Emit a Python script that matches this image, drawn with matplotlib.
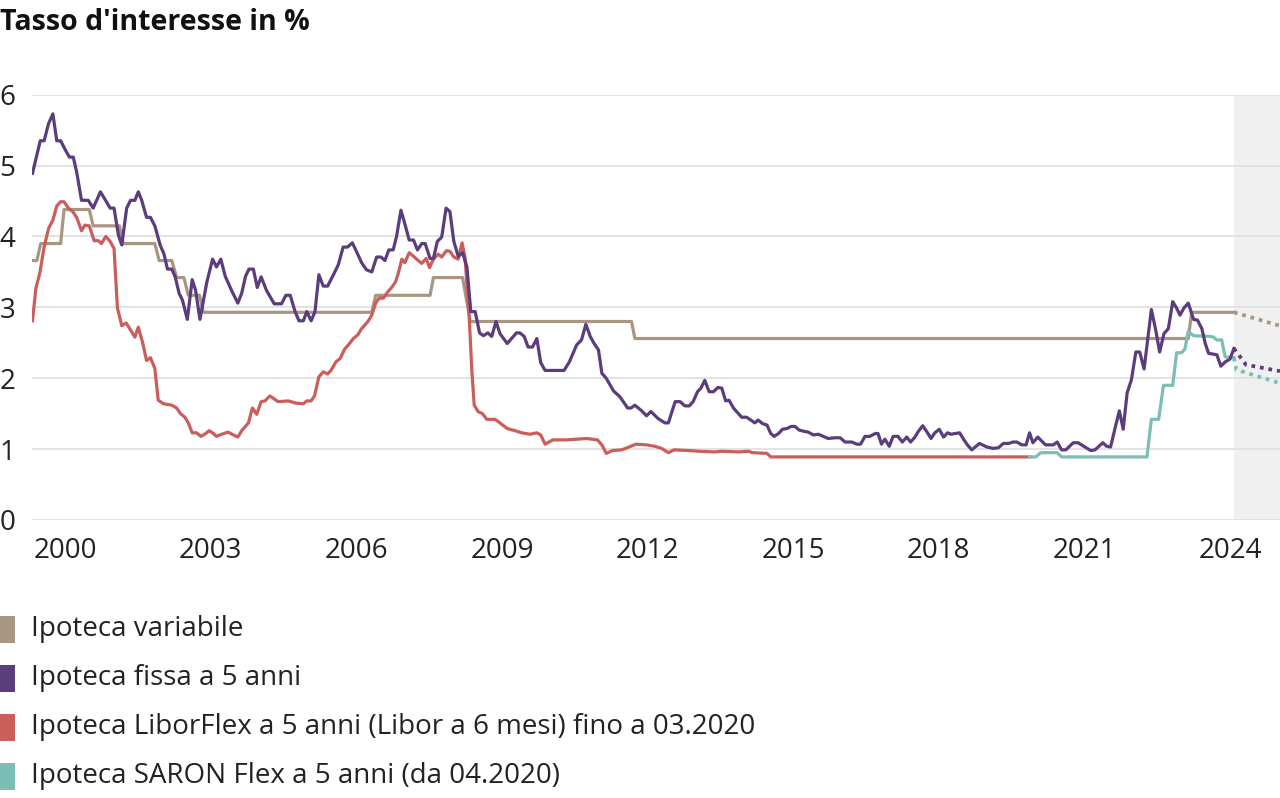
import matplotlib
matplotlib.use("Agg")
import matplotlib.pyplot as plt
from matplotlib.patches import Rectangle

plt.rcParams['font.family'] = ['Open Sans', 'DejaVu Sans']

# ---------------- data ----------------
title = "Tasso d'interesse in %"
x_ticks = [2000, 2003, 2006, 2009, 2012, 2015, 2018, 2021, 2024]
y_ticks = [0, 1, 2, 3, 4, 5, 6]
forecast_start, forecast_end = 2024.08, 2025.03

legend_labels = [
    "Ipoteca variabile",
    "Ipoteca fissa a 5 anni",
    "Ipoteca LiborFlex a 5 anni (Libor a 6 mesi) fino a 03.2020",
    "Ipoteca SARON Flex a 5 anni (da 04.2020)",
]

var_years = [1999.33, 1999.42, 1999.50, 1999.91, 1999.98, 2000.50, 2000.58, 2001.12,
             2001.20, 2001.85, 2001.94, 2002.20, 2002.30, 2002.45, 2002.54, 2002.77,
             2002.85, 2006.32, 2006.40, 2007.52, 2007.59, 2008.19, 2008.35, 2011.67,
             2011.74, 2023.14, 2023.21, 2024.08]
var_rates = [3.66, 3.66, 3.90, 3.90, 4.38, 4.38, 4.15, 4.15,
             3.90, 3.90, 3.66, 3.66, 3.42, 3.42, 3.17, 3.17,
             2.93, 2.93, 3.17, 3.17, 3.42, 3.42, 2.80, 2.80,
             2.56, 2.56, 2.93, 2.93]
var_fc_years = [2024.08, 2025.03]
var_fc_rates = [2.93, 2.74]

fix_years = [1999.33, 1999.49, 1999.57, 1999.66, 1999.75, 1999.83, 1999.91, 2000.00, 2000.09, 2000.17,
             2000.24, 2000.34, 2000.48, 2000.58, 2000.73, 2000.93, 2001.01, 2001.10, 2001.17, 2001.27,
             2001.35, 2001.44, 2001.51, 2001.58, 2001.68, 2001.76, 2001.85, 2001.96, 2002.04, 2002.11,
             2002.20, 2002.27, 2002.35, 2002.42, 2002.52, 2002.62, 2002.69, 2002.78, 2002.92, 2003.04,
             2003.12, 2003.21, 2003.30, 2003.43, 2003.56, 2003.64, 2003.72, 2003.79, 2003.88, 2003.96,
             2004.04, 2004.15, 2004.31, 2004.46, 2004.55, 2004.64, 2004.74, 2004.82, 2004.91, 2004.98,
             2005.07, 2005.15, 2005.23, 2005.32, 2005.41, 2005.53, 2005.63, 2005.73, 2005.82, 2005.92,
             2006.01, 2006.11, 2006.21, 2006.32, 2006.42, 2006.51, 2006.59, 2006.67, 2006.76, 2006.83,
             2006.92, 2007.00, 2007.09, 2007.18, 2007.26, 2007.35, 2007.42, 2007.52, 2007.59, 2007.67,
             2007.76, 2007.85, 2007.93, 2008.01, 2008.10, 2008.19, 2008.28, 2008.36, 2008.45, 2008.54,
             2008.62, 2008.71, 2008.79, 2008.88, 2008.96, 2009.11, 2009.30, 2009.37, 2009.46, 2009.54,
             2009.63, 2009.72, 2009.80, 2009.89, 2010.28, 2010.39, 2010.54, 2010.64, 2010.73, 2010.82,
             2010.90, 2010.99, 2011.06, 2011.15, 2011.30, 2011.43, 2011.59, 2011.66, 2011.74, 2011.88,
             2011.98, 2012.07, 2012.22, 2012.36, 2012.43, 2012.57, 2012.67, 2012.77, 2012.86, 2012.94,
             2013.03, 2013.10, 2013.18, 2013.27, 2013.36, 2013.45, 2013.53, 2013.61, 2013.68, 2013.77,
             2013.86, 2013.94, 2014.04, 2014.15, 2014.21, 2014.28, 2014.37, 2014.46, 2014.54, 2014.61,
             2014.70, 2014.78, 2014.87, 2014.96, 2015.04, 2015.12, 2015.23, 2015.31, 2015.42, 2015.52,
             2015.62, 2015.72, 2015.86, 2015.97, 2016.07, 2016.21, 2016.31, 2016.39, 2016.48, 2016.58,
             2016.69, 2016.75, 2016.82, 2016.89, 2016.98, 2017.06, 2017.16, 2017.25, 2017.34, 2017.42,
             2017.51, 2017.58, 2017.67, 2017.75, 2017.84, 2017.92, 2018.01, 2018.10, 2018.18, 2018.25,
             2018.43, 2018.51, 2018.59, 2018.68, 2018.84, 2018.99, 2019.12, 2019.23, 2019.33, 2019.44,
             2019.53, 2019.61, 2019.71, 2019.80, 2019.87, 2019.94, 2020.04, 2020.20, 2020.36, 2020.44,
             2020.53, 2020.62, 2020.77, 2020.87, 2021.01, 2021.13, 2021.22, 2021.38, 2021.46, 2021.54,
             2021.63, 2021.72, 2021.80, 2021.88, 2021.97, 2022.06, 2022.14, 2022.23, 2022.38, 2022.47,
             2022.55, 2022.64, 2022.73, 2022.82, 2022.90, 2022.97, 2023.05, 2023.14, 2023.25, 2023.33,
             2023.42, 2023.49, 2023.56, 2023.66, 2023.73, 2023.81, 2023.90, 2024.00, 2024.08]
fix_rates = [4.89, 5.35, 5.35, 5.59, 5.73, 5.35, 5.35, 5.23, 5.12, 5.12,
             4.91, 4.51, 4.51, 4.40, 4.63, 4.40, 4.40, 4.02, 3.88, 4.40,
             4.51, 4.51, 4.63, 4.51, 4.27, 4.27, 4.15, 3.88, 3.75, 3.54,
             3.54, 3.43, 3.20, 3.10, 2.83, 3.39, 3.24, 2.83, 3.35, 3.68,
             3.57, 3.68, 3.44, 3.24, 3.06, 3.20, 3.44, 3.54, 3.54, 3.28,
             3.43, 3.24, 3.05, 3.05, 3.17, 3.17, 2.94, 2.81, 2.81, 2.94,
             2.81, 2.94, 3.46, 3.30, 3.30, 3.46, 3.60, 3.85, 3.85, 3.91,
             3.78, 3.63, 3.53, 3.50, 3.71, 3.71, 3.66, 3.81, 3.81, 4.00,
             4.37, 4.18, 3.95, 3.95, 3.81, 3.90, 3.90, 3.69, 3.69, 3.93,
             3.99, 4.40, 4.35, 3.93, 3.72, 3.77, 3.57, 2.94, 2.94, 2.64,
             2.60, 2.64, 2.59, 2.80, 2.63, 2.49, 2.64, 2.64, 2.59, 2.44,
             2.44, 2.56, 2.22, 2.11, 2.11, 2.23, 2.47, 2.54, 2.76, 2.59,
             2.49, 2.40, 2.07, 2.00, 1.82, 1.74, 1.58, 1.58, 1.62, 1.54,
             1.47, 1.53, 1.43, 1.37, 1.37, 1.67, 1.67, 1.61, 1.61, 1.67,
             1.81, 1.86, 1.97, 1.81, 1.81, 1.87, 1.86, 1.68, 1.69, 1.58,
             1.51, 1.45, 1.45, 1.40, 1.37, 1.41, 1.36, 1.34, 1.22, 1.18,
             1.22, 1.28, 1.29, 1.32, 1.32, 1.27, 1.25, 1.24, 1.20, 1.21,
             1.18, 1.15, 1.16, 1.16, 1.10, 1.10, 1.07, 1.07, 1.18, 1.18,
             1.22, 1.22, 1.07, 1.14, 1.04, 1.18, 1.18, 1.10, 1.17, 1.10,
             1.17, 1.25, 1.33, 1.25, 1.15, 1.23, 1.28, 1.17, 1.23, 1.21,
             1.23, 1.14, 1.06, 0.99, 1.08, 1.03, 1.01, 1.02, 1.08, 1.08,
             1.10, 1.10, 1.06, 1.06, 1.23, 1.09, 1.17, 1.06, 1.06, 1.10,
             0.99, 0.99, 1.09, 1.09, 1.03, 0.98, 0.99, 1.09, 1.04, 1.03,
             1.29, 1.54, 1.28, 1.79, 1.98, 2.37, 2.37, 2.13, 2.97, 2.68,
             2.37, 2.63, 2.70, 3.08, 2.99, 2.89, 2.99, 3.06, 2.83, 2.82,
             2.70, 2.49, 2.35, 2.34, 2.33, 2.17, 2.23, 2.27, 2.42]
fix_fc_years = [2024.08, 2024.33, 2025.03]
fix_fc_rates = [2.42, 2.19, 2.10]

libor_years = [1999.33, 1999.40, 1999.48, 1999.57, 1999.66, 1999.75, 1999.83, 1999.91, 1999.98, 2000.07,
               2000.16, 2000.24, 2000.34, 2000.41, 2000.50, 2000.60, 2000.69, 2000.75, 2000.84, 2000.93,
               2001.01, 2001.08, 2001.17, 2001.26, 2001.34, 2001.44, 2001.51, 2001.60, 2001.68, 2001.76,
               2001.85, 2001.92, 2002.03, 2002.20, 2002.30, 2002.38, 2002.47, 2002.54, 2002.62, 2002.71,
               2002.80, 2002.88, 2002.97, 2003.04, 2003.12, 2003.23, 2003.36, 2003.47, 2003.56, 2003.65,
               2003.78, 2003.86, 2003.95, 2004.04, 2004.12, 2004.22, 2004.39, 2004.60, 2004.75, 2004.91,
               2004.98, 2005.07, 2005.14, 2005.23, 2005.32, 2005.41, 2005.48, 2005.58, 2005.67, 2005.76,
               2005.85, 2005.94, 2006.03, 2006.11, 2006.24, 2006.32, 2006.40, 2006.47, 2006.56, 2006.65,
               2006.73, 2006.81, 2006.87, 2006.94, 2007.00, 2007.09, 2007.18, 2007.26, 2007.35, 2007.44,
               2007.51, 2007.59, 2007.69, 2007.76, 2007.86, 2007.93, 2008.01, 2008.10, 2008.18, 2008.24,
               2008.33, 2008.38, 2008.43, 2008.51, 2008.60, 2008.69, 2008.86, 2008.96, 2009.11, 2009.27,
               2009.41, 2009.58, 2009.72, 2009.80, 2009.89, 2010.05, 2010.33, 2010.54, 2010.75, 2010.97,
               2011.06, 2011.15, 2011.28, 2011.47, 2011.62, 2011.76, 2011.98, 2012.15, 2012.29, 2012.43,
               2012.55, 2012.84, 2013.05, 2013.39, 2013.53, 2013.88, 2014.08, 2014.16, 2014.46, 2014.54,
               2019.87]
libor_rates = [2.81, 3.27, 3.48, 3.85, 4.11, 4.23, 4.43, 4.49, 4.49, 4.40,
               4.35, 4.27, 4.08, 4.16, 4.15, 3.94, 3.94, 3.90, 4.00, 3.93,
               3.83, 2.99, 2.74, 2.78, 2.69, 2.58, 2.72, 2.50, 2.25, 2.29,
               2.14, 1.69, 1.64, 1.62, 1.58, 1.50, 1.45, 1.37, 1.23, 1.23,
               1.18, 1.21, 1.26, 1.23, 1.18, 1.21, 1.24, 1.20, 1.17, 1.27,
               1.37, 1.58, 1.49, 1.67, 1.68, 1.75, 1.67, 1.68, 1.65, 1.64,
               1.68, 1.68, 1.75, 2.02, 2.09, 2.06, 2.11, 2.23, 2.28, 2.41,
               2.48, 2.56, 2.61, 2.70, 2.80, 2.89, 3.06, 3.13, 3.13, 3.22,
               3.28, 3.36, 3.49, 3.68, 3.63, 3.77, 3.72, 3.67, 3.62, 3.69,
               3.56, 3.68, 3.75, 3.71, 3.80, 3.79, 3.71, 3.68, 3.91, 3.71,
               2.82, 2.12, 1.62, 1.53, 1.50, 1.42, 1.42, 1.37, 1.29, 1.26,
               1.23, 1.21, 1.23, 1.20, 1.07, 1.13, 1.13, 1.14, 1.15, 1.13,
               1.06, 0.94, 0.98, 0.99, 1.03, 1.07, 1.06, 1.04, 1.01, 0.95,
               0.99, 0.98, 0.97, 0.96, 0.97, 0.96, 0.97, 0.95, 0.94, 0.89,
               0.89]

saron_years = [2019.87, 2020.00, 2020.10, 2020.44, 2020.53, 2022.29, 2022.38, 2022.53, 2022.63, 2022.82,
               2022.90, 2023.00, 2023.07, 2023.14, 2023.25, 2023.59, 2023.66, 2023.73, 2023.83, 2023.90,
               2024.00, 2024.08]
saron_rates = [0.89, 0.89, 0.95, 0.95, 0.89, 0.89, 1.42, 1.42, 1.90, 1.90,
               2.36, 2.36, 2.41, 2.66, 2.60, 2.59, 2.58, 2.54, 2.54, 2.30,
               2.30, 2.29]
saron_fc_years = [2024.08, 2024.13, 2025.03]
saron_fc_rates = [2.29, 2.12, 1.93]

# ---------------- styling ----------------
C_VAR = "#A99682"
C_FIX = "#5B3C7C"
C_LIB = "#C95E5B"
C_SAR = "#7CBDB5"
colors = [C_VAR, C_FIX, C_LIB, C_SAR]
FS = 20
FS_TITLE = 20.5
LW = 2.3
DOT = (0, (1.0, 1.3))

W, H = 1280, 798
fig = plt.figure(figsize=(W / 100, H / 100), dpi=100)
ax = fig.add_axes([32 / W, 1 - 520 / H, 1 - 32 / W, (520 - 94.7) / H])

ax.axvspan(forecast_start, forecast_end, color="#F0F0F0", zorder=0, lw=0)

ax.plot(var_years, var_rates, color=C_VAR, lw=LW, zorder=3)
ax.plot(libor_years, libor_rates, color=C_LIB, lw=LW, zorder=4)
ax.plot(saron_years, saron_rates, color=C_SAR, lw=LW, zorder=4)
ax.plot(fix_years, fix_rates, color=C_FIX, lw=LW, zorder=5)

ax.plot(var_fc_years, var_fc_rates, color=C_VAR, lw=LW + 0.4, ls=DOT, zorder=3)
ax.plot(saron_fc_years, saron_fc_rates, color=C_SAR, lw=LW + 0.4, ls=DOT, zorder=4)
ax.plot(fix_fc_years, fix_fc_rates, color=C_FIX, lw=LW + 0.4, ls=DOT, zorder=5)

ax.set_xlim(1999.32, forecast_end)
ax.set_ylim(0, 6)
ax.set_xticks(x_ticks)
ax.set_xticklabels([str(t) for t in x_ticks], fontsize=FS, color="#222222")
ax.set_yticks(y_ticks)
ax.set_yticklabels([str(t) for t in y_ticks], fontsize=FS, color="#222222")
ax.tick_params(axis="x", length=0, pad=12)
ax.tick_params(axis="y", length=0, pad=12)
ax.set_axisbelow(True)
ax.yaxis.grid(True, color="#DEDEDE", lw=1.2)
ax.xaxis.grid(False)
for s in ax.spines.values():
    s.set_visible(False)

fig.text(0.0, 1 - 22 / H, title, fontsize=FS_TITLE, fontweight="bold", va="center", ha="left",
         color="#111111")

row_centers = [629, 678, 727, 776]
for lab, col, yc in zip(legend_labels, colors, row_centers):
    fig.patches.append(Rectangle((0, 1 - (yc + 14) / H), 15 / W, 27 / H,
                                 transform=fig.transFigure, color=col, lw=0))
    fig.text(31 / W, 1 - yc / H, lab, fontsize=FS, va="center", ha="left", color="#222222")

fig.savefig("out.png", dpi=100)
